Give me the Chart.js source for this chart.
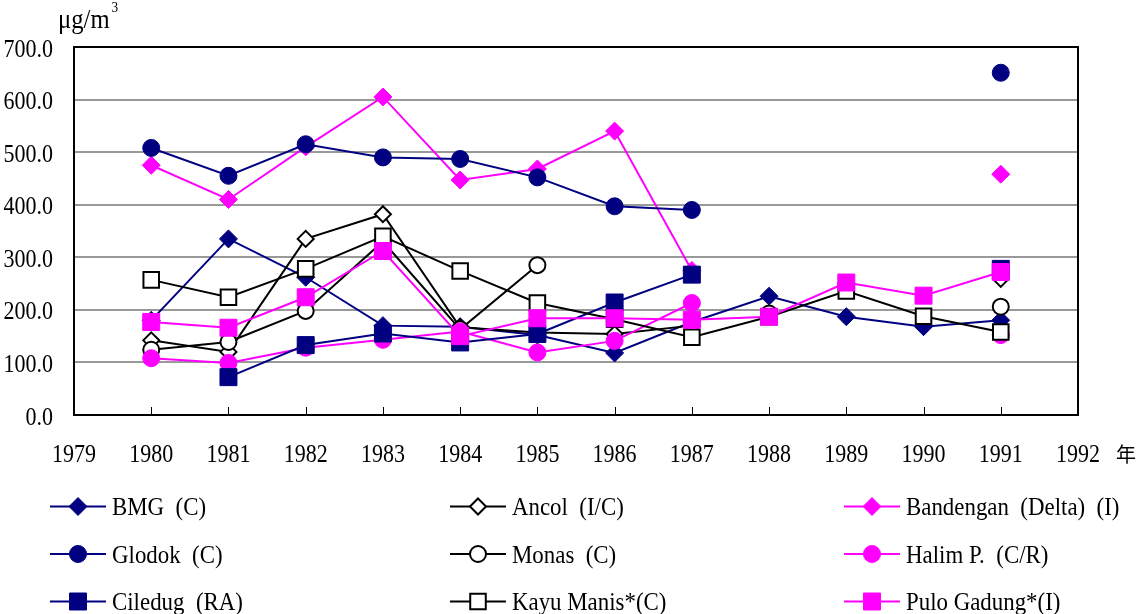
<!DOCTYPE html>
<html>
<head>
<meta charset="utf-8">
<script src="https://cdn.jsdelivr.net/npm/chart.js"></script>
<style>
  html, body { margin: 0; padding: 0; background: #fff; }
  #wrap { width: 1141px; height: 614px; }
</style>
</head>
<body>
<div id="wrap"><canvas id="myChart"></canvas></div>
<script>
// years on the x axis, one value per year (null = no measurement)
const years = [1980, 1981, 1982, 1983, 1984, 1985, 1986, 1987, 1988, 1989, 1990, 1991];
const xTicks = [1979, 1980, 1981, 1982, 1983, 1984, 1985, 1986, 1987, 1988, 1989, 1990, 1991, 1992];

const bmg       = [180, 335, 262, 170, 168, 152, 118, 177, 226, 187, 168, 180];
const ancol     = [142, 120, 335, 382, 167, 157, 154, 170, null, null, null, 259];
const bandengan = [475, 410, 510, 605, 447, 468, 540, 275, null, null, null, 458];
const glodok    = [508, 455, 515, 490, 487, 452, 397, 390, null, null, null, 651];
const monas     = [124, 139, 198, 330, 163, 285, null, null, 193, null, null, 206];
const halim     = [108, 99, 128, 143, 159, 119, 141, 213, null, null, null, 152];
const ciledug   = [null, 72, 133, 155, 138, 154, 214, 267, null, null, null, 278];
const kayuManis = [257, 224, 278, 340, 274, 213, 182, 148, 187, 236, 188, 158];
const puloGadung = [177, 166, 224, 312, 150, 184, 184, 181, 187, 252, 227, 272];

const NAVY = '#000080';
const MAG = '#ff00ff';
const BLK = '#000000';

function pts(vals) {
    return years.map((yr, i) => ({ x: yr, y: vals[i] }));
}

function series(label, vals, color, style, filled, radius) {
    return {
        label: label,
        data: pts(vals),
        borderColor: color,
        backgroundColor: color,
        borderWidth: 2,
        pointStyle: style,
        pointRadius: radius,
        pointHoverRadius: radius,
        pointBackgroundColor: filled ? color : '#ffffff',
        pointBorderColor: color,
        pointBorderWidth: filled ? 1 : 2,
        spanGaps: false,
        tension: 0
    };
}

const datasets = [
    series('BMG (C)', bmg, NAVY, 'rectRot', true, 9),
    series('Ancol (I/C)', ancol, BLK, 'rectRot', false, 8),
    series('Bandengan (Delta) (I)', bandengan, MAG, 'rectRot', true, 9),
    series('Glodok (C)', glodok, NAVY, 'circle', true, 8.5),
    series('Monas (C)', monas, BLK, 'circle', false, 8),
    series('Halim P. (C/R)', halim, MAG, 'circle', true, 8.5),
    series('Ciledug (RA)', ciledug, NAVY, 'rect', true, 12),
    series('Kayu Manis*(C)', kayuManis, BLK, 'rect', false, 11),
    series('Pulo Gadung*(I)', puloGadung, MAG, 'rect', true, 12)
];
// later series sit on top, as in the original
datasets.forEach((d, i) => { d.order = datasets.length - i; });

const serif = "'Liberation Serif', 'Times New Roman', serif";
const SQUEEZE = 0.88;   // the original text is a bit narrow

function drawText(ctx, text, x, y, size, align) {
    ctx.save();
    ctx.translate(x, y);
    ctx.scale(SQUEEZE, 1);
    ctx.font = size + 'px ' + serif;
    ctx.textAlign = align;
    ctx.textBaseline = 'alphabetic';
    ctx.fillStyle = BLK;
    ctx.fillText(text, 0, 0);
    const w = ctx.measureText(text).width * SQUEEZE;
    ctx.restore();
    return w;
}

const extras = {
    id: 'extras',
    beforeDatasetsDraw(chart) {
        const ctx = chart.ctx;
        const area = chart.chartArea;
        const xs = chart.scales.x;
        ctx.save();
        ctx.strokeStyle = BLK;
        ctx.lineWidth = 1;
        xTicks.forEach(t => {   // small ticks pointing up from the axis
            const px = Math.round(xs.getPixelForValue(t)) + 0.5;
            ctx.beginPath();
            ctx.moveTo(px, area.bottom);
            ctx.lineTo(px, area.bottom - 8);
            ctx.stroke();
        });
        ctx.lineWidth = 2;
        ctx.strokeRect(area.left, area.top, area.right - area.left, area.bottom - area.top);
        ctx.restore();
    },
    afterDraw(chart) {
        const ctx = chart.ctx;
        const area = chart.chartArea;
        const xs = chart.scales.x;
        const ys = chart.scales.y;

        // tick labels
        ys.ticks.forEach(t => {
            drawText(ctx, t.value.toFixed(1), area.left - 21, ys.getPixelForValue(t.value) + 9.5, 25, 'right');
        });
        xTicks.forEach(t => {
            drawText(ctx, String(t), xs.getPixelForValue(t), area.bottom + 46.5, 25, 'center');
        });

        // unit label
        const w = drawText(ctx, 'μg/m', 58, 28, 28, 'left');
        drawText(ctx, '3', 58 + w + 2, 12, 15, 'left');

        // year character after the last tick
        ctx.save();
        ctx.fillStyle = BLK;
        ctx.font = "20px 'Noto Sans CJK JP', sans-serif";
        ctx.textBaseline = 'middle';
        ctx.textAlign = 'left';
        ctx.fillText('年', 1116, 454);
        ctx.restore();

        // legend, 3 columns x 3 rows
        const colX = [50, 450, 844];
        const rowY = [506.5, 554, 601.5];
        chart.data.datasets.forEach((ds, i) => {
            const x0 = colX[i % 3];
            const y = rowY[Math.floor(i / 3)];
            ctx.save();
            ctx.strokeStyle = ds.borderColor;
            ctx.lineWidth = 2;
            ctx.beginPath();
            ctx.moveTo(x0, y);
            ctx.lineTo(x0 + 56, y);
            ctx.stroke();
            ctx.fillStyle = ds.pointBackgroundColor;
            ctx.strokeStyle = ds.pointBorderColor;
            ctx.lineWidth = ds.pointBorderWidth;
            Chart.helpers.drawPoint(ctx, {
                pointStyle: ds.pointStyle,
                radius: ds.pointRadius,
                rotation: 0,
                borderWidth: ds.pointBorderWidth
            }, x0 + 28, y);
            ctx.restore();
            // the original sets its brackets a little wider apart
            drawText(ctx, ds.label.replace(/ \(/g, '\u2002('), x0 + 62, y + 8.5, 26, 'left');
        });
    }
};

const ctx = document.getElementById('myChart');
const myChart = new Chart(ctx, {
    type: 'line',
    data: { datasets: datasets },
    options: {
        responsive: true,
        maintainAspectRatio: false,
        animation: false,
        layout: { padding: { top: 47, left: 0, right: 63, bottom: 0 } },
        plugins: {
            legend: { display: false },
            tooltip: { enabled: false }
        },
        scales: {
            x: {
                type: 'linear',
                min: 1979,
                max: 1992,
                afterBuildTicks: (scale) => { scale.ticks = xTicks.map(v => ({ value: v })); },
                afterFit: (scale) => { scale.height = 199; },
                grid: { display: false, drawTicks: false },
                border: { display: true, color: BLK, width: 2 },
                ticks: { display: false }
            },
            y: {
                min: 0,
                max: 700,
                afterFit: (scale) => { scale.width = 74; },
                grid: { color: '#999999', lineWidth: 2, drawTicks: false },
                border: { display: true, color: BLK, width: 2 },
                ticks: { display: false, stepSize: 100 }
            }
        }
    },
    plugins: [extras]
});
</script>
</body>
</html>
